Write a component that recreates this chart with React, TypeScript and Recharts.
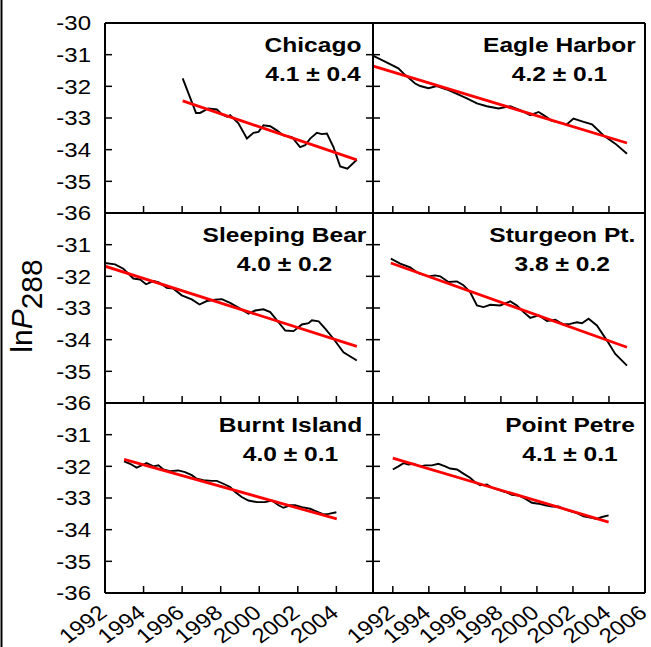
import React from 'react';
import { LineChart, Line, XAxis, YAxis, ReferenceLine } from 'recharts';

// ---------- data ----------
const stationNames = ['Chicago', 'Eagle Harbor', 'Sleeping Bear', 'Sturgeon Pt.', 'Burnt Island', 'Point Petre'];
const stationRates = ['4.1 ± 0.4', '4.2 ± 0.1', '4.0 ± 0.2', '3.8 ± 0.2', '4.0 ± 0.1', '4.1 ± 0.1'];

const leftYearTicks = [1992, 1994, 1996, 1998, 2000, 2002, 2004];
const rightYearTicks = [1992, 1994, 1996, 1998, 2000, 2002, 2004, 2006];
const valueTicks = [-36, -35, -34, -33, -32, -31, -30];

const chicagoYears = [1996.03, 1996.72, 1996.93, 1997.36, 1997.8, 1998.06, 1998.32, 1998.49, 1998.92, 1999.36, 1999.7, 1999.96, 2000.22, 2000.57, 2000.91, 2001.26, 2001.69, 2002.12, 2002.38, 2002.64, 2002.99, 2003.25, 2003.51, 2003.85, 2004.2, 2004.57, 2005.06];
const chicagoValues = [-31.75, -32.84, -32.84, -32.7, -32.73, -32.88, -32.96, -32.91, -33.17, -33.65, -33.47, -33.44, -33.23, -33.26, -33.39, -33.55, -33.6, -33.92, -33.86, -33.65, -33.47, -33.51, -33.49, -33.92, -34.53, -34.6, -34.32];
const chicagoFitYears = [1996.03, 2005.06];
const chicagoFitValues = [-32.46, -34.32];

const eagleYears = [1990.92, 1991.57, 1992.31, 1992.59, 1993.24, 1993.52, 1993.98, 1994.44, 1995, 1995.56, 1996.11, 1996.67, 1997.22, 1997.87, 1998.52, 1999.07, 1999.63, 2000.09, 2000.37, 2000.83, 2001.67, 2002.03, 2002.59, 2003.06, 2003.7, 2004.35, 2005];
const eagleValues = [-31.04, -31.22, -31.43, -31.59, -31.91, -31.99, -32.06, -31.99, -32.1, -32.24, -32.38, -32.54, -32.63, -32.7, -32.63, -32.75, -32.91, -32.81, -32.91, -33.09, -33.2, -33.02, -33.12, -33.2, -33.55, -33.81, -34.13];
const eagleFitYears = [1990.92, 2005];
const eagleFitValues = [-31.36, -33.79];

const sleepingYears = [1992, 1992.52, 1992.95, 1993.47, 1993.82, 1994.13, 1994.51, 1994.77, 1995.2, 1995.55, 1995.98, 1996.5, 1996.9, 1997.28, 1997.71, 1998.06, 1998.49, 1999.01, 1999.44, 1999.79, 2000.22, 2000.57, 2001, 2001.35, 2001.78, 2002.21, 2002.56, 2002.73, 2003.08, 2003.42, 2003.85, 2004.37, 2005.06];
const sleepingValues = [-31.58, -31.62, -31.76, -32.07, -32.1, -32.25, -32.15, -32.18, -32.36, -32.39, -32.6, -32.73, -32.89, -32.78, -32.74, -32.72, -32.84, -33.02, -33.18, -33.08, -33.04, -33.13, -33.45, -33.71, -33.73, -33.52, -33.48, -33.39, -33.42, -33.65, -33.97, -34.4, -34.66];
const sleepingFitYears = [1992, 2005.06];
const sleepingFitValues = [-31.68, -34.21];

const sturgeonYears = [1991.89, 1992.41, 1992.96, 1993.42, 1993.98, 1994.35, 1994.63, 1995.09, 1995.56, 1995.92, 1996.29, 1996.67, 1997.03, 1997.41, 1997.96, 1998.52, 1998.89, 1999.26, 1999.63, 2000.09, 2000.56, 2001.02, 2001.48, 2001.85, 2002.22, 2002.5, 2002.87, 2003.33, 2003.89, 2004.35, 2005];
const sturgeonValues = [-31.44, -31.6, -31.72, -31.9, -32, -31.97, -32, -32.18, -32.16, -32.28, -32.5, -32.92, -32.97, -32.9, -32.92, -32.79, -32.92, -33.13, -33.31, -33.23, -33.41, -33.37, -33.52, -33.5, -33.45, -33.48, -33.34, -33.55, -34.03, -34.45, -34.82];
const sturgeonFitYears = [1991.89, 2005];
const sturgeonFitValues = [-31.58, -34.24];

const burntYears = [1992.99, 1993.3, 1993.64, 1993.9, 1994.16, 1994.51, 1994.77, 1995.03, 1995.37, 1995.8, 1996.15, 1996.5, 1996.76, 1997.1, 1997.53, 1997.8, 1998.14, 1998.49, 1998.75, 1999.09, 1999.44, 1999.88, 2000.3, 2000.65, 2001, 2001.26, 2001.6, 2001.86, 2002.21, 2002.64, 2003.08, 2003.34, 2003.6, 2004];
const burntValues = [-31.84, -31.92, -32.04, -31.97, -31.9, -32, -31.97, -32.1, -32.15, -32.13, -32.18, -32.28, -32.39, -32.44, -32.46, -32.46, -32.55, -32.65, -32.81, -32.97, -33.08, -33.13, -33.13, -33.08, -33.23, -33.31, -33.23, -33.23, -33.29, -33.34, -33.45, -33.52, -33.5, -33.45];
const burntFitYears = [1992.99, 2004.02];
const burntFitValues = [-31.78, -33.66];

const petreYears = [1992, 1992.31, 1992.59, 1992.87, 1993.14, 1993.52, 1993.79, 1994.17, 1994.53, 1994.91, 1995.18, 1995.56, 1995.92, 1996.29, 1996.57, 1996.85, 1997.22, 1997.5, 1997.87, 1998.24, 1998.61, 1998.98, 1999.35, 1999.72, 2000.09, 2000.46, 2000.83, 2001.2, 2001.48, 2001.85, 2002.22, 2002.59, 2002.96, 2003.33, 2003.61, 2003.98];
const petreValues = [-32.1, -32, -31.9, -31.94, -31.92, -32, -31.97, -31.97, -31.92, -32, -32.07, -32.1, -32.23, -32.36, -32.5, -32.6, -32.57, -32.67, -32.74, -32.81, -32.9, -32.92, -33.02, -33.15, -33.18, -33.23, -33.27, -33.27, -33.34, -33.41, -33.48, -33.58, -33.62, -33.66, -33.6, -33.55];
const petreFitYears = [1992, 2003.98];
const petreFitValues = [-31.74, -33.76];

// ---------- layout ----------
const FONT = "'Liberation Sans', Arial, Helvetica, sans-serif";
const STRETCH = 1.17;
const PH = 190;
const ROW_TOPS = [23, 213, 403];
const COLS = [
  { x: 105, w: 268, domain: [1992, 2005.9], ticks: leftYearTicks },
  { x: 373, w: 272, domain: [1990.9, 2006], ticks: rightYearTicks },
];
// label centre offsets from panel right edge
const LABEL_DX = [-60, -85.5, -88.5, -82.7, -82.5, -75];

const zip = (ts: number[], vs: number[]) => ts.map((t, i) => ({ t, v: vs[i] }));

const panels = [
  { line: zip(chicagoYears, chicagoValues), fit: zip(chicagoFitYears, chicagoFitValues) },
  { line: zip(eagleYears, eagleValues), fit: zip(eagleFitYears, eagleFitValues) },
  { line: zip(sleepingYears, sleepingValues), fit: zip(sleepingFitYears, sleepingFitValues) },
  { line: zip(sturgeonYears, sturgeonValues), fit: zip(sturgeonFitYears, sturgeonFitValues) },
  { line: zip(burntYears, burntValues), fit: zip(burntFitYears, burntFitValues) },
  { line: zip(petreYears, petreValues), fit: zip(petreFitYears, petreFitValues) },
];

const makeXTick = (showLabel: boolean) => (p: any) => {
  const { x, y, payload } = p;
  return (
    <g>
      <line x1={x} x2={x} y1={y} y2={y - 7} stroke="#000" strokeWidth={1.5} />
      {showLabel && (
        <text
          transform={`translate(${x + 3.5},${y + 22}) scale(${STRETCH},1) rotate(-40)`}
          textAnchor="end"
          fontSize={20.5}
          fontFamily={FONT}
          fill="#000"
        >
          {payload.value}
        </text>
      )}
    </g>
  );
};

const makeYTick = (isLeft: boolean, isTop: boolean) => (p: any) => {
  const { x, y, payload } = p;
  const showLabel = isLeft && (isTop || payload.value !== -30);
  return (
    <g>
      <line x1={isLeft ? x : x - 7} x2={x + 7} y1={y} y2={y} stroke="#000" strokeWidth={1.5} />
      {showLabel && (
        <text
          transform={`translate(${x - 14},${y}) scale(${STRETCH},1)`}
          textAnchor="end"
          dy="0.36em"
          fontSize={20.5}
          fontFamily={FONT}
          fill="#000"
        >
          {payload.value}
        </text>
      )}
    </g>
  );
};

function Panel({ idx }: { idx: number }) {
  const col = idx % 2;
  const row = Math.floor(idx / 2);
  const c = COLS[col];
  const isLeft = col === 0;
  const isBottom = row === 2;
  const yAxisW = isLeft ? 105 : 40;
  const mTop = 16;
  const mRight = 6;
  const xAxisH = isBottom ? 54 : 16;
  const width = yAxisW + c.w + mRight;
  const height = mTop + PH + xAxisH;
  const { line, fit } = panels[idx];
  return (
    <div style={{ position: 'absolute', left: c.x - yAxisW, top: ROW_TOPS[row] - mTop }}>
      <LineChart width={width} height={height} margin={{ top: mTop, right: mRight, bottom: 0, left: 0 }}>
        <XAxis
          xAxisId="x"
          type="number"
          dataKey="t"
          domain={c.domain}
          ticks={c.ticks}
          interval={0}
          allowDataOverflow
          height={xAxisH}
          tickSize={0}
          tickMargin={0}
          tickLine={false}
          axisLine={{ stroke: '#000', strokeWidth: 2 }}
          tick={makeXTick(isBottom)}
        />
        <YAxis
          yAxisId="y"
          type="number"
          domain={[-36, -30]}
          ticks={valueTicks}
          interval={0}
          allowDataOverflow
          width={yAxisW}
          tickSize={0}
          tickMargin={0}
          tickLine={false}
          axisLine={{ stroke: '#000', strokeWidth: 2 }}
          tick={makeYTick(isLeft, row === 0)}
        />
        <ReferenceLine xAxisId="x" yAxisId="y" y={-30} stroke="#000" strokeWidth={2} ifOverflow="visible" />
        <ReferenceLine xAxisId="x" yAxisId="y" x={c.domain[1]} stroke="#000" strokeWidth={2} ifOverflow="visible" />
        <Line
          xAxisId="x"
          yAxisId="y"
          data={line}
          dataKey="v"
          type="linear"
          stroke="#000"
          strokeWidth={1.9}
          dot={false}
          isAnimationActive={false}
        />
        <Line
          xAxisId="x"
          yAxisId="y"
          data={fit}
          dataKey="v"
          type="linear"
          stroke="#ff0000"
          strokeWidth={2.8}
          dot={false}
          isAnimationActive={false}
        />
      </LineChart>
    </div>
  );
}

export default function App() {
  return (
    <div style={{ position: 'absolute', left: 0, top: 0, width: 651, height: 647, background: '#fff', overflow: 'hidden' }}>
      {panels.map((_, i) => (
        <Panel key={i} idx={i} />
      ))}
      <svg width={651} height={647} style={{ position: 'absolute', left: 0, top: 0, pointerEvents: 'none' }}>
        <line x1={1.5} y1={0} x2={1.5} y2={647} stroke="#000" strokeWidth={2} />
        <text
          transform="translate(32,306) rotate(-90)"
          textAnchor="middle"
          fontSize={30}
          fontFamily={FONT}
          fill="#000"
        >
          ln<tspan fontStyle="italic">P</tspan>
          <tspan dy={10}>288</tspan>
        </text>
        {stationNames.map((name, i) => {
          const col = i % 2;
          const row = Math.floor(i / 2);
          const right = COLS[col].x + COLS[col].w;
          const cx = right + LABEL_DX[i];
          const top = ROW_TOPS[row];
          return (
            <g key={name} fontFamily={FONT} fontWeight="bold" fontSize={21} fill="#000">
              <text transform={`translate(${cx},${top + 28.8}) scale(${STRETCH},1)`} textAnchor="middle">
                {name}
              </text>
              <text transform={`translate(${cx},${top + 57.8}) scale(${STRETCH},1)`} textAnchor="middle">
                {stationRates[i]}
              </text>
            </g>
          );
        })}
      </svg>
    </div>
  );
}
